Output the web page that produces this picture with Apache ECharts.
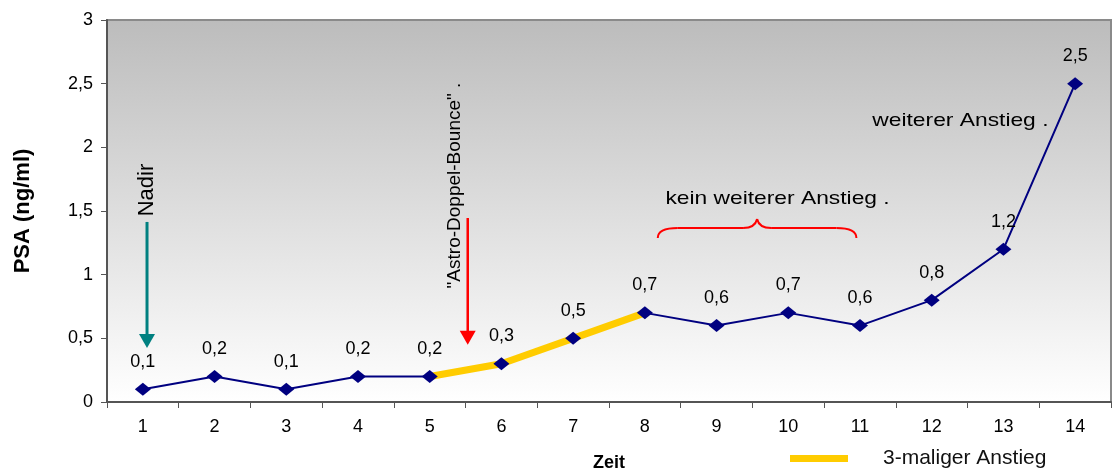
<!DOCTYPE html>
<html>
<head>
<meta charset="utf-8">
<script src="https://cdn.jsdelivr.net/npm/echarts@6/dist/echarts.min.js"></script>
<style>html,body{margin:0;padding:0;background:#fff}#c{width:1112px;height:474px}</style>
</head>
<body>
<div id="c"></div>
<script>
var categories = ['1','2','3','4','5','6','7','8','9','10','11','12','13','14'];
var psaValues = [0.1, 0.2, 0.1, 0.2, 0.2, 0.3, 0.5, 0.7, 0.6, 0.7, 0.6, 0.8, 1.2, 2.5];
var riseValues = [null, null, null, null, 0.2, 0.3, 0.5, 0.7, null, null, null, null, null, null];
var yTicks = [0, 0.5, 1, 1.5, 2, 2.5, 3];

var FONT = 'Arial, "Liberation Sans", sans-serif';
function de(v){ return String(v).replace('.', ','); }

var chart = echarts.init(document.getElementById('c'), null, {renderer:'canvas'});
var option = {
  animation: false,
  backgroundColor: '#ffffff',
  textStyle: {fontFamily: FONT},
  grid: {
    left: 107, right: 1, top: 20, bottom: 72,
    containLabel: false, outerBoundsMode: 'none',
    show: true,
    borderColor: '#8a8a8a', borderWidth: 2,
    backgroundColor: new echarts.graphic.LinearGradient(0,0,0,1,[
      {offset:0, color:'#bcbcbc'},
      {offset:1, color:'#ffffff'}
    ])
  },
  legend: {
    data: ['3-maliger Anstieg'],
    left: 785, top: 443,
    icon: 'rect', itemWidth: 58, itemHeight: 7,
    textStyle: {fontFamily: FONT, fontSize: 21, color:'#111', padding:[0,0,8,30]}
  },
  xAxis: [{
    type: 'category', data: categories, boundaryGap: true,
    name: 'Zeit', nameLocation: 'middle', nameGap: 52,
    nameTextStyle: {fontFamily: FONT, fontSize: 18, fontWeight: 'bold', color:'#000'},
    axisLine: {lineStyle: {color:'#555', width: 2}},
    axisTick: {show: true, length: 6, lineStyle:{color:'#555', width:1}},
    axisLabel: {fontFamily: FONT, fontSize: 18, color:'#000', margin: 16},
    splitLine: {show:false}
  },{
    type: 'value', min: 0.5, max: 14.5, show: false
  }],
  yAxis: {
    type: 'value', min: yTicks[0], max: yTicks[yTicks.length-1], interval: 0.5,
    name: 'PSA (ng/ml)', nameLocation: 'middle', nameGap: 73, nameRotate: 90,
    nameTextStyle: {fontFamily: FONT, fontSize: 22, fontWeight: 'bold', color:'#000'},
    axisLine: {show: true, lineStyle: {color:'#555', width: 2}},
    axisTick: {show: true, length: 6, lineStyle:{color:'#555', width:1}},
    axisLabel: {fontFamily: FONT, fontSize: 18, color:'#000', margin: 14, formatter: function(v){ return de(v); }},
    splitLine: {show: false}
  },
  series: [{
    name: 'PSA', type: 'line', data: psaValues,
    xAxisIndex: 0, symbol: 'none', showSymbol: false,
    lineStyle: {color: '#000080', width: 2},
    itemStyle: {color: '#000080'},
    z: 2
  },{
    name: '3-maliger Anstieg', type: 'line', data: riseValues,
    xAxisIndex: 0, symbol: 'none', showSymbol: false,
    itemStyle: {color: '#ffcc00'},
    lineStyle: {color: '#ffcc00', width: 7},
    z: 3, connectNulls: false
  },{
    name: 'PSA-Werte', type: 'scatter', data: psaValues,
    xAxisIndex: 0,
    symbol: 'diamond', symbolSize: [16, 13],
    itemStyle: {color: '#000080', opacity: 1},
    label: {show: true, position: 'top', distance: 12, fontFamily: FONT, fontSize: 18, color: '#000',
      formatter: function(p){ return de(p.value); }},
    z: 4
  },{
    name: 'anno', type: 'line', xAxisIndex: 1, data: [], silent: true
  }]
};
chart.setOption(option);

function P(x, y){ return chart.convertToPixel({xAxisIndex:1, yAxisIndex:0}, [x, y]); }

function arrow(x, y1, y2, color, w, hw, hh){
  var a = P(x, y1), b = P(x, y2);
  return [{
    type:'line', shape:{x1:a[0], y1:a[1], x2:b[0], y2:b[1]-hh+1}, style:{stroke:color, lineWidth:w}, z:10
  },{
    type:'polygon', shape:{points:[[b[0]-hw/2, b[1]-hh],[b[0]+hw/2, b[1]-hh],[b[0], b[1]]]}, style:{fill:color}, z:10
  }];
}
function vtext(txt, x, y, size){
  var p = P(x, y);
  return {type:'text', x:p[0], y:p[1], rotation: Math.PI/2,
    style:{text:txt, fill:'#000', font: size+'px ' + FONT, align:'center', verticalAlign:'middle'}, z:10};
}
function htext(txt, x, y, size, sx){
  var p = P(x, y);
  return {type:'text', x:p[0], y:p[1], scaleX: sx || 1,
    style:{text:txt, fill:'#000', font: size+'px ' + FONT, align:'center', verticalAlign:'middle'}, z:10};
}
function brace(x1, x2, yTop, yEnd, color){
  var L = P(x1, yEnd), R = P(x2, yEnd), T = P((x1+x2)/2, yTop);
  var top = T[1], end = L[1], cx = T[0];
  var bar = top + 9;
  var st = {stroke:color, lineWidth:2, fill:null};
  return [
    {type:'bezierCurve', shape:{x1:L[0], y1:end, cpx1:L[0], cpy1:bar, x2:L[0]+20, y2:bar}, style:st, z:10},
    {type:'line', shape:{x1:L[0]+20, y1:bar, x2:cx-14, y2:bar}, style:st, z:10},
    {type:'bezierCurve', shape:{x1:cx-14, y1:bar, cpx1:cx-2, cpy1:bar, x2:cx, y2:top}, style:st, z:10},
    {type:'bezierCurve', shape:{x1:cx, y1:top, cpx1:cx+2, cpy1:bar, x2:cx+14, y2:bar}, style:st, z:10},
    {type:'line', shape:{x1:cx+14, y1:bar, x2:R[0]-20, y2:bar}, style:st, z:10},
    {type:'bezierCurve', shape:{x1:R[0]-20, y1:bar, cpx1:R[0], cpy1:bar, x2:R[0], y2:end}, style:st, z:10}
  ];
}

var g = [];
g = g.concat(arrow(1.058, 1.414, 0.424, '#008080', 3, 16, 14));
g = g.concat(arrow(5.53, 1.445, 0.45, '#ff0000', 2.5, 16, 14));
g.push(vtext('Nadir', 1.05, 1.665, 22));
g.push(vtext('"Astro-Doppel-Bounce" .', 5.35, 1.70, 19));
g.push(htext('kein weiterer Anstieg .', 9.85, 1.60, 19, 1.2));
g.push(htext('weiterer Anstieg .', 12.4, 2.207, 19, 1.2));
g = g.concat(brace(8.18, 10.95, 1.437, 1.288, '#ff0000'));
chart.setOption({graphic: g});
</script>
</body>
</html>
